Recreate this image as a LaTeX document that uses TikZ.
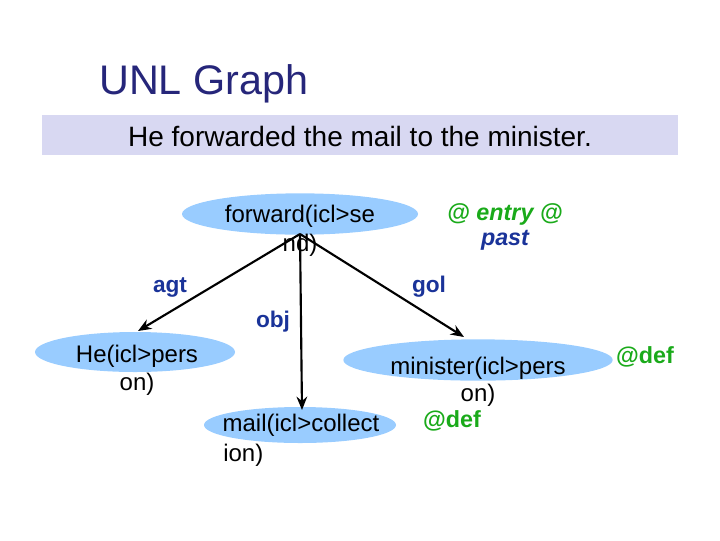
\documentclass[tikz,border=0pt]{standalone}
\usepackage{fontspec}
\setmainfont{Liberation Sans}
\usetikzlibrary{shapes.geometric,arrows.meta}
\definecolor{ell}{HTML}{99CCFF}
\definecolor{band}{HTML}{D8D8F2}
\definecolor{ttl}{HTML}{26267A}
\definecolor{lbl}{HTML}{1A3399}
\definecolor{grn}{HTML}{1AAA1A}
\begin{document}
\begin{tikzpicture}[x=0.75pt,y=-0.75pt,
  el/.style={ellipse,fill=ell,inner sep=0pt},
  txt/.style={font=\fontsize{18}{20}\selectfont,inner sep=0pt},
  rel/.style={font=\bfseries\fontsize{17}{19}\selectfont,text=lbl,inner sep=0pt},
  att/.style={font=\bfseries\fontsize{17.5}{20}\selectfont,text=grn,inner sep=0pt},
  con/.style={line width=1.6pt,-{Stealth[length=10pt,width=8pt]}}]
\useasboundingbox (0,0) rectangle (720,540);
\node[anchor=west,text=ttl,font=\fontsize{31}{35}\selectfont,inner sep=0pt] (title) at (99,84) {UNL Graph};
\fill[band] (42,115) rectangle (678,155);
\node[txt,font=\fontsize{21}{24}\selectfont] (sent) at (360,136) {He forwarded the mail to the minister.};
\node[el,minimum width=177pt,minimum height=31pt] (fe) at (300,214) {};
\node[txt] (ft1) at (300,216) {forward(icl>se};
\node[txt] (ft2) at (300,245) {nd)};
\node[att,font=\bfseries\itshape\fontsize{17.5}{19}\selectfont,align=center] (entry) at (505,227) {@ entry @\\\textcolor{lbl}{past}};
\node[el,minimum width=150pt,minimum height=30pt] (he) at (135,352) {};
\node[txt] (ht1) at (137,356) {He(icl>pers};
\node[txt] (ht2) at (137,384) {on)};
\node[el,minimum width=144pt,minimum height=27pt] (me) at (300,425) {};
\node[txt] (mt1) at (301,425) {mail(icl>collect};
\node[txt,anchor=west] (mt2) at (223,455) {ion)};
\node[att] (d1) at (452,421) {@def};
\node[el,minimum width=202pt,minimum height=31pt] (ne) at (478,360) {};
\node[txt] (nt1) at (478,368) {minister(icl>pers};
\node[txt] (nt2) at (478,395) {on)};
\node[att] (d2) at (645,357) {@def};
\coordinate (o) at (300,234);
\coordinate (ha) at (138,331);
\coordinate (ma) at (302,410);
\coordinate (na) at (464,337);
\draw[con] (o) -- (ha);
\draw[con] (o) -- (ma);
\draw[con] (o) -- (na);
\node[rel] (agt) at (170,287) {agt};
\node[rel] (gol) at (429,287) {gol};
\node[rel] (obj) at (273,322) {obj};
\end{tikzpicture}
\end{document}
